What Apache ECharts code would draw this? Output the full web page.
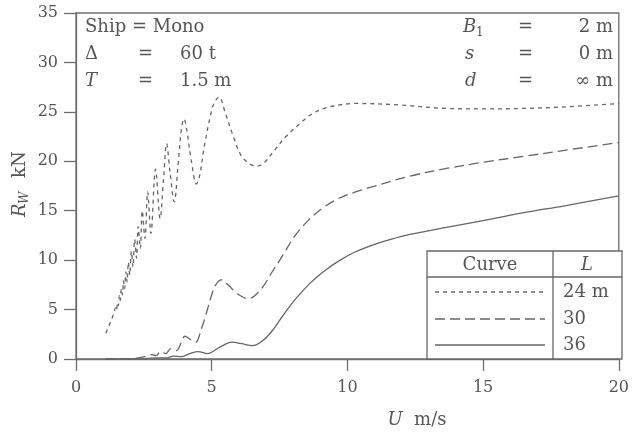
<!DOCTYPE html>
<html>
<head>
<meta charset="utf-8">
<script src="https://cdn.jsdelivr.net/npm/echarts@6/dist/echarts.min.js"></script>
<style>
  html, body { margin: 0; padding: 0; background: #fff; }
  #chart { width: 632px; height: 437px; }
</style>
</head>
<body>
<div id="chart"></div>
<script>
// Wave resistance R_W (kN) against speed U (m/s) for three hull lengths L.
// L = 24 m
const speed24 = [1.10, 1.25, 1.38, 1.46, 1.49, 1.53, 1.56, 1.60, 1.63, 1.67, 1.71, 1.75, 1.79, 1.84, 1.88,
  1.93, 1.98, 2.04, 2.10, 2.16, 2.23, 2.29, 2.37, 2.44, 2.54, 2.64, 2.76, 2.93, 3.10, 3.22, 3.34, 3.46,
  3.62, 3.76, 3.88, 3.98, 4.08, 4.24, 4.44, 4.56, 4.72, 4.96, 5.09, 5.27, 5.50, 5.76, 6.08, 6.42, 6.67,
  6.95, 7.25, 7.70, 8.20, 8.70, 9.20, 9.70, 10.3, 11.9, 13.6, 15.0, 16.5, 18.0, 20.0];
const resist24 = [2.6, 3.6, 4.5, 5.2, 4.9, 5.7, 5.4, 6.4, 5.9, 7.1, 6.5, 7.9, 7.1, 8.8, 7.8,
  9.8, 8.5, 10.9, 9.3, 12.1, 10.2, 13.4, 11.2, 15.0, 12.2, 16.9, 12.7, 19.2, 14.2, 18.0, 21.8, 19.0,
  15.9, 19.6, 23.2, 24.3, 23.2, 20.2, 17.7, 18.6, 21.4, 24.7, 25.9, 26.5, 24.9, 22.8, 20.6, 19.7, 19.5,
  19.9, 20.9, 22.4, 23.7, 24.8, 25.4, 25.7, 25.85, 25.7, 25.35, 25.3, 25.35, 25.5, 25.85];

// L = 30 m
const speed30 = [1.10, 1.80, 2.30, 2.60, 2.80, 2.95, 3.12, 3.30, 3.50, 3.70, 4.02, 4.20, 4.42, 4.60, 4.80,
  5.00, 5.15, 5.35, 5.60, 5.95, 6.35, 6.80, 7.20, 7.60, 8.05, 8.55, 9.10, 9.65, 10.3, 10.9, 12.3, 13.7,
  15.0, 16.5, 18.0, 20.0];
const resist30 = [0.0, 0.02, 0.12, 0.3, 0.45, 0.35, 0.75, 0.55, 1.05, 0.85, 2.3, 2.0, 1.7, 2.9, 4.6,
  6.5, 7.5, 8.0, 7.5, 6.6, 6.1, 7.0, 8.7, 10.4, 12.4, 14.0, 15.3, 16.2, 16.9, 17.4, 18.5, 19.3,
  19.9, 20.5, 21.1, 21.9];

// L = 36 m
const speed36 = [1.10, 2.00, 2.60, 3.00, 3.30, 3.60, 3.90, 4.20, 4.50, 4.85, 5.30, 5.75, 6.10, 6.50, 6.90,
  7.30, 7.60, 8.10, 8.60, 9.10, 9.70, 10.3, 10.9, 11.6, 12.3, 13.6, 15.0, 16.5, 18.0, 20.0];
const resist36 = [0.0, 0.0, 0.05, 0.12, 0.1, 0.3, 0.25, 0.55, 0.75, 0.55, 1.2, 1.7, 1.55, 1.35, 1.9,
  3.1, 4.3, 6.1, 7.6, 8.8, 9.95, 10.85, 11.5, 12.1, 12.6, 13.3, 14.0, 14.8, 15.5, 16.5];

const lengthLabels = ['24 m', '30', '36'];
const xTicks = [0, 5, 10, 15, 20];
const yTicks = [0, 5, 10, 15, 20, 25, 30, 35];

const zip = (xs, ys) => xs.map((x, i) => [x, ys[i]]);

const INK = '#555';
const AXIS = '#6f6f6f';
const SERIF = '"DejaVu Serif", "Liberation Serif", serif';
const dashes = [[4, 4], [10, 5], 'solid'];

const chart = echarts.init(document.getElementById('chart'), null, { renderer: 'canvas' });

function txt(x, y, text, opts) {
  return {
    type: 'text', x: x, y: y, z: 10,
    style: Object.assign({
      text: text, fill: INK, fontFamily: SERIF, fontSize: 18,
      align: 'left', verticalAlign: 'middle'
    }, opts || {})
  };
}
function seg(x1, y1, x2, y2, dash) {
  return {
    type: 'line', z: 10,
    shape: { x1: x1, y1: y1, x2: x2, y2: y2 },
    style: { stroke: '#666', lineWidth: 1.3, lineDash: dash === 'solid' ? null : dash }
  };
}

// parameter block, top-left and top-right
const notes = [
  txt(85, 27, 'Ship = Mono'),
  txt(85, 54, 'Δ'), txt(138, 54, '='), txt(180, 54, '60 t'),
  txt(85, 81, 'T', { fontStyle: 'italic' }), txt(138, 81, '='), txt(180, 81, '1.5 m'),
  txt(463, 27, 'B', { fontStyle: 'italic' }), txt(476, 33, '1', { fontSize: 12 }),
  txt(518, 27, '='), txt(613, 27, '2 m', { align: 'right' }),
  txt(465, 54, 's', { fontStyle: 'italic' }), txt(518, 54, '='), txt(613, 54, '0 m', { align: 'right' }),
  txt(465, 81, 'd', { fontStyle: 'italic' }), txt(518, 81, '='), txt(613, 81, '∞ m', { align: 'right' })
];

// key table, bottom-right
const table = [
  { type: 'rect', z: 9, shape: { x: 427, y: 251, width: 195, height: 108 },
    style: { fill: '#fff', stroke: '#666', lineWidth: 1.3 } },
  seg(427, 277, 622, 277, 'solid'),
  seg(553, 251, 553, 359, 'solid'),
  txt(490, 265, 'Curve', { align: 'center' }),
  txt(587, 265, 'L', { align: 'center', fontStyle: 'italic' })
];
const rowY = [292, 319, 345];
lengthLabels.forEach((lab, i) => {
  table.push(seg(435, rowY[i], 545, rowY[i], dashes[i]));
  table.push(txt(563, rowY[i], lab));
});

// axis titles
const titles = [
  { type: 'text', x: 417, y: 420, z: 10,
    style: { text: '{i|U}  m/s', fill: INK, fontFamily: SERIF, fontSize: 18,
      align: 'center', verticalAlign: 'middle',
      rich: { i: { fontStyle: 'italic', fontFamily: SERIF, fontSize: 18, fill: INK } } } },
  { type: 'group', x: 20, y: 184, rotation: Math.PI / 2, z: 10,
    children: [
      { type: 'text', x: -33, y: 0, style: { text: 'R', fill: INK, fontFamily: SERIF, fontSize: 18,
        fontStyle: 'italic', align: 'left', verticalAlign: 'middle' } },
      { type: 'text', x: -20, y: 5, style: { text: 'W', fill: INK, fontFamily: SERIF, fontSize: 12,
        fontStyle: 'italic', align: 'left', verticalAlign: 'middle' } },
      { type: 'text', x: 6, y: 0, style: { text: 'kN', fill: INK, fontFamily: SERIF, fontSize: 18,
        align: 'left', verticalAlign: 'middle' } }
    ] }
];

function curve(name, xs, ys, dash) {
  return {
    name: name, type: 'line', data: zip(xs, ys), smooth: 0.35, symbol: 'none',
    lineStyle: { color: '#666', width: 1.3, type: dash },
    silent: true, animation: false
  };
}

chart.setOption({
  animation: false,
  backgroundColor: '#fff',
  grid: { left: 76, right: 10, top: 13, bottom: 78, show: true, borderColor: AXIS, borderWidth: 1.3,
    backgroundColor: 'transparent' },
  xAxis: {
    type: 'value', min: xTicks[0], max: xTicks[xTicks.length - 1], interval: 5,
    axisLine: { lineStyle: { color: AXIS, width: 1.3 } },
    axisTick: { length: 12, lineStyle: { color: AXIS, width: 1.3 } },
    axisLabel: { margin: 21, color: INK, fontFamily: SERIF, fontSize: 16 },
    splitLine: { show: false }
  },
  yAxis: {
    type: 'value', min: yTicks[0], max: yTicks[yTicks.length - 1], interval: 5,
    axisLine: { show: true, lineStyle: { color: AXIS, width: 1.3 } },
    axisTick: { show: true, length: 12, lineStyle: { color: AXIS, width: 1.3 } },
    axisLabel: { margin: 18, color: INK, fontFamily: SERIF, fontSize: 16 },
    splitLine: { show: false }
  },
  series: [
    curve(lengthLabels[0], speed24, resist24, dashes[0]),
    curve(lengthLabels[1], speed30, resist30, dashes[1]),
    curve(lengthLabels[2], speed36, resist36, dashes[2])
  ],
  graphic: notes.concat(table, titles)
});
</script>
</body>
</html>
